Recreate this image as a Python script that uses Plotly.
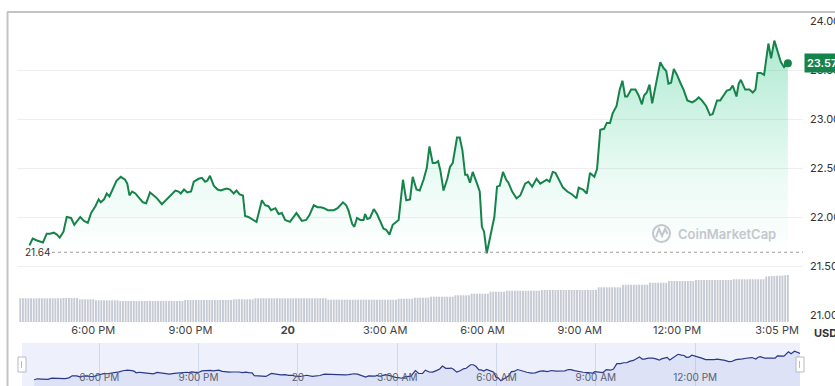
import plotly.graph_objects as go
import pandas as pd

W, H = 835, 386

day1 = "2024-05-19"

# price series (clock times, day rolls over after midnight)
times = [
    "16:02","16:08","16:16","16:27","16:34","16:40","16:47","16:53","16:58","17:05",
    "17:11","17:19","17:25","17:31","17:36","17:43","17:50","17:56","18:04","18:10",
    "18:14","18:20","18:25","18:30","18:36","18:43","18:51","18:59","19:03","19:07",
    "19:12","19:18","19:24","19:32","19:38","19:45","19:52","19:58","20:07","20:16",
    "20:26","20:32","20:38","20:42","20:48","20:54","21:01","21:06","21:15","21:21",
    "21:27","21:31","21:36","21:43","21:50","21:56","22:01","22:07","22:13","22:20",
    "22:25","22:31","22:37","22:41","22:47","22:54","23:02","23:12","23:18","23:24",
    "23:29","23:37","23:43","23:49","23:55","00:04","00:16","00:26","00:34","00:40",
    "00:48","00:55","01:01","01:07","01:14","01:25","01:32","01:42","01:48","01:52",
    "01:59","02:03","02:08","02:14","02:20","02:23","02:27","02:32","02:39","02:45",
    "02:51","02:57","03:02","03:08","03:14","03:20","03:25","03:33","03:39","03:46",
    "03:51","03:58","04:04","04:11","04:17","04:22","04:28","04:33","04:38","04:42",
    "04:48","04:55","05:00","05:05","05:13","05:18","05:23","05:28","05:32","05:37",
    "05:42","05:50","05:55","05:59","06:03","06:08","06:14","06:22","06:27","06:32",
    "06:38","06:44","06:48","06:55","07:03","07:10","07:19","07:25","07:32","07:40",
    "07:47","07:53","07:59","08:04","08:10","08:15","08:21","08:29","08:37","08:46",
    "08:54","08:58","09:06","09:13","09:19","09:27","09:32","09:38","09:45","09:50",
    "09:56","10:01","10:08","10:14","10:19","10:24","10:28","10:35","10:43","10:49",
    "10:55","10:59","11:04","11:09","11:14","11:22","11:29","11:35","11:40","11:44",
    "11:49","11:54","12:00","12:06","12:12","12:19","12:28","12:34","12:40","12:46",
    "12:54","13:01","13:06","13:14","13:20","13:26","13:32","13:38","13:43","13:50",
    "13:54","13:58","14:06","14:14","14:20","14:25","14:29","14:35","14:41","14:49",
    "14:54","15:00","15:06","15:12","15:18","15:25",
]
prices = [
    21.71,21.78,21.76,21.74,21.83,21.83,21.84,21.82,21.79,21.85,
    22.00,21.99,21.92,21.97,22.00,21.96,21.94,22.04,22.11,22.18,
    22.15,22.18,22.24,22.21,22.29,22.37,22.41,22.38,22.34,22.22,
    22.26,22.24,22.20,22.15,22.14,22.25,22.22,22.19,22.13,22.18,
    22.24,22.27,22.26,22.24,22.28,22.25,22.26,22.36,22.39,22.40,
    22.36,22.37,22.42,22.32,22.28,22.27,22.28,22.29,22.28,22.24,
    22.27,22.23,22.22,22.01,22.00,21.98,21.95,22.17,22.12,22.11,
    22.07,22.09,22.03,22.04,21.97,21.95,22.04,21.96,21.97,22.02,
    22.12,22.10,22.10,22.09,22.07,22.07,22.09,22.15,22.12,22.07,
    21.93,21.90,21.99,21.97,21.97,22.03,21.98,21.99,22.08,22.03,
    21.95,21.88,21.87,21.82,21.92,21.95,21.97,22.38,22.17,22.18,
    22.41,22.28,22.27,22.38,22.50,22.72,22.55,22.55,22.57,22.48,
    22.27,22.39,22.51,22.55,22.81,22.81,22.68,22.43,22.43,22.35,
    22.46,22.34,22.26,21.90,21.85,21.63,21.80,22.00,22.31,22.32,
    22.46,22.38,22.35,22.26,22.19,22.22,22.34,22.36,22.31,22.39,
    22.34,22.36,22.38,22.36,22.46,22.45,22.38,22.30,22.26,22.23,
    22.19,22.30,22.28,22.24,22.45,22.41,22.49,22.89,22.90,22.96,
    22.96,23.06,23.13,23.30,23.39,23.23,23.23,23.30,23.30,23.24,
    23.15,23.24,23.27,23.35,23.16,23.40,23.58,23.52,23.49,23.36,
    23.37,23.51,23.45,23.37,23.30,23.19,23.17,23.19,23.22,23.19,
    23.13,23.04,23.05,23.19,23.19,23.24,23.29,23.30,23.34,23.23,
    23.36,23.40,23.30,23.30,23.27,23.30,23.47,23.47,23.45,23.77,
    23.62,23.80,23.69,23.58,23.53,23.57,
]

# 5-minute volume bars starting 15:45 (relative units)
vol_start = "2024-05-19 15:45"
volume = [
    237,237,238,237,237,236,237,237,238,237,237,237,
    237,237,238,237,240,241,240,240,241,240,227,227,
    227,226,227,227,217,217,218,217,217,216,217,217,
    217,210,210,211,210,210,210,209,210,210,210,210,
    210,210,209,210,210,211,210,210,210,210,209,210,
    210,220,220,220,221,220,220,220,219,220,220,220,
    220,220,220,221,220,220,220,227,227,228,227,227,
    227,227,227,237,237,237,238,237,237,237,237,237,
    237,237,237,236,237,237,237,238,237,237,237,237,
    237,237,237,237,237,237,223,223,223,224,223,223,
    223,223,222,223,223,223,223,223,224,223,223,223,
    223,223,223,223,223,223,223,223,233,233,233,233,
    233,233,243,243,243,243,243,243,253,253,253,253,
    253,253,253,253,253,267,267,267,267,267,267,283,
    283,283,283,283,283,283,303,303,303,303,303,303,
    313,313,313,313,313,313,313,313,313,313,313,313,
    313,320,320,320,320,320,320,320,320,320,320,320,
    320,320,320,320,320,320,320,320,320,320,347,347,
    347,347,347,347,347,347,347,373,373,373,373,373,
    373,373,373,373,373,393,393,393,393,393,393,393,
    410,410,410,410,410,410,410,410,410,410,420,420,
    420,420,420,420,420,420,420,420,420,420,420,420,
    427,427,427,427,427,427,427,427,427,427,427,427,
    455,458,460,460,462,463,465,467,470,
]

x_tickvals = ["2024-05-19 18:00", "2024-05-19 21:00", "2024-05-20 00:00", "2024-05-20 03:00",
              "2024-05-20 06:00", "2024-05-20 09:00", "2024-05-20 12:00", "2024-05-20 15:05"]
x_ticktext = ["6:00 PM", "9:00 PM", "<b>20</b>", "3:00 AM", "6:00 AM", "9:00 AM", "12:00 PM", "3:05 PM"]
nav_tickvals = x_tickvals[:7]
nav_ticktext = ["6:00 PM", "9:00 PM", "20", "3:00 AM", "6:00 AM", "9:00 AM", "12:00 PM"]
y_tickvals = [21.0, 21.5, 22.0, 22.5, 23.0, 23.5, 24.0]
y_ticktext = ["21.00", "21.50", "22.00", "22.50", "23.00", "23.50", "24.00"]
last_price = 23.57
low_price = 21.64

# ---- build timestamps
ts = []
day = pd.Timestamp(day1)
prev = None
for t in times:
    h, m = map(int, t.split(":"))
    mins = h * 60 + m
    if prev is not None and mins < prev:
        day += pd.Timedelta(days=1)
    prev = mins
    ts.append(day + pd.Timedelta(minutes=mins))
vol_x = pd.date_range(vol_start, periods=len(volume), freq="5min")


def px(x):
    return x / W


def py(y):
    return 1 - y / H


GREEN = "#16834a"
FONT = "Inter, Roboto, sans-serif"

fig = go.Figure()

# volume bars
fig.add_trace(go.Bar(x=vol_x, y=volume, xaxis="x", yaxis="y3",
                     marker=dict(color="#c6cad3", line=dict(width=0)), hoverinfo="skip"))

# price area
fig.add_trace(go.Scatter(
    x=ts, y=prices, mode="lines", xaxis="x", yaxis="y",
    line=dict(color=GREEN, width=2),
    fill="tozeroy",
    fillgradient=dict(type="vertical", start=21.6, stop=23.8,
                      colorscale=[[0, "rgba(22,199,132,0.0)"], [0.35, "rgba(22,199,132,0.08)"],
                                  [1, "rgba(22,190,120,0.34)"]]),
    hoverinfo="skip"))
# last point marker
fig.add_trace(go.Scatter(x=[ts[-1]], y=[prices[-1]], mode="markers", xaxis="x", yaxis="y",
                         marker=dict(color=GREEN, size=8), hoverinfo="skip"))

# navigator
fig.add_trace(go.Scatter(x=ts, y=prices, mode="lines", xaxis="x2", yaxis="y2",
                         line=dict(color="#2a3887", width=1.2),
                         fill="tozeroy", fillcolor="rgba(80,100,210,0.10)", hoverinfo="skip"))

fig.update_layout(
    width=W, height=H,
    margin=dict(l=0, r=0, t=0, b=0, pad=0, autoexpand=False),
    paper_bgcolor="white", plot_bgcolor="rgba(0,0,0,0)",
    showlegend=False, bargap=0.3,
    font=dict(family=FONT, size=11, color="#333"),
    xaxis=dict(domain=[px(17), px(803)], range=["2024-05-19 15:39", "2024-05-20 15:53"],
               anchor="free", position=py(322), tickvals=x_tickvals, ticktext=x_ticktext,
               showgrid=False, showline=False, zeroline=False, ticks="", automargin=False,
               tickfont=dict(size=11, color="#444")),
    yaxis=dict(domain=[py(315), py(21)], range=[21, 24], side="right", anchor="x",
               tickvals=y_tickvals, ticktext=y_ticktext, gridcolor="#efefef", gridwidth=1,
               showline=False, zeroline=False, ticks="", ticklabelstandoff=6, automargin=False,
               tickfont=dict(size=11, color="#333")),
    yaxis3=dict(domain=[py(322), py(272)], range=[0, 500], anchor="x", visible=False,
                automargin=False),
    xaxis2=dict(domain=[px(22), px(800)], range=["2024-05-19 15:40", "2024-05-20 15:10"],
                anchor="y2", tickvals=nav_tickvals, ticktext=nav_ticktext,
                ticklabelposition="inside", showgrid=True, gridcolor="#d2d8ec",
                showline=False, zeroline=False, ticks="", automargin=False,
                tickfont=dict(size=10, color="#5a5f70")),
    yaxis2=dict(domain=[0, py(343)], range=[21.25, 24.41], anchor="x2", visible=False,
                automargin=False),
)

shapes = [
    # navigator background
    dict(type="rect", xref="paper", yref="paper", x0=px(22), x1=px(800), y0=0, y1=py(343),
         fillcolor="#eef1fb", line=dict(width=0), layer="below"),
    # frame borders
    dict(type="line", xref="paper", yref="paper", x0=px(7), x1=1, y0=py(12), y1=py(12),
         line=dict(color="#c4c4c4", width=2)),
    dict(type="line", xref="paper", yref="paper", x0=px(7.5), x1=px(7.5), y0=0, y1=py(12),
         line=dict(color="#c4c4c4", width=2)),
    # low price dotted line
    dict(type="line", xref="paper", yref="y", x0=px(52), x1=px(803), y0=low_price, y1=low_price,
         line=dict(color="#9a9a9a", width=1, dash="dot")),
    # navigator handles
    dict(type="rect", xref="paper", yref="paper", x0=px(18), x1=px(26), y0=py(372), y1=py(357),
         fillcolor="white", line=dict(color="#b5bac6", width=1)),
    dict(type="rect", xref="paper", yref="paper", x0=px(796), x1=px(804), y0=py(372), y1=py(357),
         fillcolor="white", line=dict(color="#b5bac6", width=1)),
    dict(type="line", xref="paper", yref="paper", x0=px(21.5), x1=px(21.5), y0=py(368), y1=py(361),
         line=dict(color="#b5bac6", width=1)),
    dict(type="line", xref="paper", yref="paper", x0=px(799.5), x1=px(799.5), y0=py(368), y1=py(361),
         line=dict(color="#b5bac6", width=1)),
    # watermark logo
    dict(type="circle", xref="paper", yref="paper", x0=px(653), x1=px(670), y0=py(242), y1=py(225),
         line=dict(color="#c3c7cd", width=2)),
    dict(type="path", xref="paper", yref="paper",
         path=f"M {px(656)},{py(237)} L {px(659)},{py(229)} L {px(662)},{py(236)} "
              f"L {px(665)},{py(229)} L {px(667.5)},{py(234)}",
         line=dict(color="#c3c7cd", width=2)),
]
fig.update_layout(shapes=shapes)

annotations = [
    dict(text="CoinMarketCap", xref="paper", yref="paper", x=px(727), y=py(234),
         xanchor="center", yanchor="middle",
         showarrow=False, font=dict(size=13, color="#c3c7cd", family=FONT, weight=600)),
    dict(text=f"{low_price:.2f}", xref="paper", yref="y", x=px(23), y=low_price,
         xanchor="left", yanchor="middle",
         showarrow=False, font=dict(size=10, color="#333")),
    dict(text=f"{last_price:.2f}", xref="paper", yref="y", x=px(804), y=last_price,
         xanchor="left", yanchor="middle",
         showarrow=False, bgcolor=GREEN, borderpad=2,
         font=dict(size=11, color="white", weight=600)),
    dict(text="<b>USD</b>", xref="paper", yref="paper", x=px(812), y=py(333),
         xanchor="left", yanchor="middle",
         showarrow=False, font=dict(size=11, color="#333")),
]
fig.update_layout(annotations=annotations)

fig.write_html(
    "out.html",
    config={"displayModeBar": False, "staticPlot": True},
    post_script=(
        "var d=document.getElementById('{plot_id}');"
        "d.style.position='fixed';d.style.top='0px';d.style.left='0px';"
        "document.body.style.margin='0';document.body.style.overflow='hidden';"
        "document.documentElement.style.overflow='hidden';"
    ),
)
